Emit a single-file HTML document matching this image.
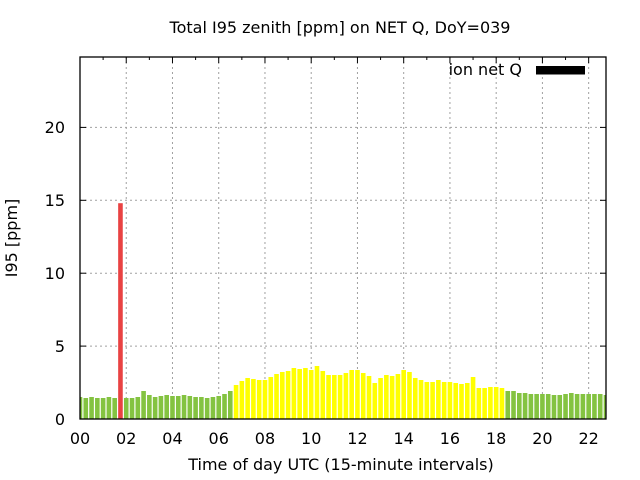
<!DOCTYPE html>
<html><head><meta charset="utf-8"><style>
html,body{margin:0;padding:0;background:#fff;}
svg{display:block;}
text{font-family:"DejaVu Sans","Liberation Sans",sans-serif;font-size:16px;fill:#000;}
</style></head><body>
<svg width="640" height="480" viewBox="0 0 640 480" xmlns="http://www.w3.org/2000/svg">
<defs><clipPath id="pa"><rect x="80" y="57" width="526" height="362"/></clipPath></defs>
<rect x="0" y="0" width="640" height="480" fill="#fff"/>
<g stroke="#a0a0a0" stroke-width="1" stroke-dasharray="2,3" fill="none">
<line x1="80" y1="346.1" x2="606" y2="346.1"/>
<line x1="80" y1="273.2" x2="606" y2="273.2"/>
<line x1="80" y1="200.3" x2="606" y2="200.3"/>
<line x1="80" y1="127.4" x2="606" y2="127.4"/>
<line x1="126.24" y1="57" x2="126.24" y2="419"/>
<line x1="172.48" y1="57" x2="172.48" y2="419"/>
<line x1="218.72" y1="57" x2="218.72" y2="419"/>
<line x1="264.97" y1="57" x2="264.97" y2="419"/>
<line x1="311.21" y1="57" x2="311.21" y2="419"/>
<line x1="357.45" y1="57" x2="357.45" y2="419"/>
<line x1="403.69" y1="57" x2="403.69" y2="419"/>
<line x1="449.94" y1="57" x2="449.94" y2="419"/>
<line x1="496.18" y1="57" x2="496.18" y2="419"/>
<line x1="542.42" y1="57" x2="542.42" y2="419"/>
<line x1="588.66" y1="57" x2="588.66" y2="419"/>
</g>
<g clip-path="url(#pa)">
<g fill="#84c341">
<rect x="77.70" y="397" width="4.6" height="22"/>
<rect x="83.48" y="398" width="4.6" height="21"/>
<rect x="89.26" y="397" width="4.6" height="22"/>
<rect x="95.04" y="398" width="4.6" height="21"/>
<rect x="100.82" y="398" width="4.6" height="21"/>
<rect x="106.60" y="397" width="4.6" height="22"/>
<rect x="112.38" y="398" width="4.6" height="21"/>
<rect x="123.94" y="398" width="4.6" height="21"/>
<rect x="129.72" y="398" width="4.6" height="21"/>
<rect x="135.50" y="397" width="4.6" height="22"/>
<rect x="141.28" y="391" width="4.6" height="28"/>
<rect x="147.06" y="395" width="4.6" height="24"/>
<rect x="152.84" y="397" width="4.6" height="22"/>
<rect x="158.62" y="396" width="4.6" height="23"/>
<rect x="164.40" y="395" width="4.6" height="24"/>
<rect x="170.18" y="396" width="4.6" height="23"/>
<rect x="175.96" y="396" width="4.6" height="23"/>
<rect x="181.74" y="395" width="4.6" height="24"/>
<rect x="187.52" y="396" width="4.6" height="23"/>
<rect x="193.30" y="397" width="4.6" height="22"/>
<rect x="199.08" y="397" width="4.6" height="22"/>
<rect x="204.86" y="398" width="4.6" height="21"/>
<rect x="210.64" y="397" width="4.6" height="22"/>
<rect x="216.42" y="396" width="4.6" height="23"/>
<rect x="222.21" y="394" width="4.6" height="25"/>
<rect x="227.99" y="391" width="4.6" height="28"/>
<rect x="505.44" y="391" width="4.6" height="28"/>
<rect x="511.22" y="391" width="4.6" height="28"/>
<rect x="517.00" y="393" width="4.6" height="26"/>
<rect x="522.78" y="393" width="4.6" height="26"/>
<rect x="528.56" y="394" width="4.6" height="25"/>
<rect x="534.34" y="394" width="4.6" height="25"/>
<rect x="540.12" y="394" width="4.6" height="25"/>
<rect x="545.90" y="394" width="4.6" height="25"/>
<rect x="551.68" y="395" width="4.6" height="24"/>
<rect x="557.46" y="395" width="4.6" height="24"/>
<rect x="563.24" y="394" width="4.6" height="25"/>
<rect x="569.02" y="393" width="4.6" height="26"/>
<rect x="574.80" y="394" width="4.6" height="25"/>
<rect x="580.58" y="394" width="4.6" height="25"/>
<rect x="586.36" y="394" width="4.6" height="25"/>
<rect x="592.14" y="394" width="4.6" height="25"/>
<rect x="597.92" y="394" width="4.6" height="25"/>
<rect x="603.70" y="395" width="4.6" height="24"/>
</g>
<rect x="118.16" y="203.2" width="4.6" height="215.8" fill="#e94242"/>
<g fill="#ffff00">
<rect x="233.77" y="385" width="4.6" height="34"/>
<rect x="239.55" y="381" width="4.6" height="38"/>
<rect x="245.33" y="378" width="4.6" height="41"/>
<rect x="251.11" y="379" width="4.6" height="40"/>
<rect x="256.89" y="380" width="4.6" height="39"/>
<rect x="262.67" y="380" width="4.6" height="39"/>
<rect x="268.45" y="377" width="4.6" height="42"/>
<rect x="274.23" y="374" width="4.6" height="45"/>
<rect x="280.01" y="372" width="4.6" height="47"/>
<rect x="285.79" y="371" width="4.6" height="48"/>
<rect x="291.57" y="368" width="4.6" height="51"/>
<rect x="297.35" y="369" width="4.6" height="50"/>
<rect x="303.13" y="368" width="4.6" height="51"/>
<rect x="308.91" y="370" width="4.6" height="49"/>
<rect x="314.69" y="366" width="4.6" height="53"/>
<rect x="320.47" y="371" width="4.6" height="48"/>
<rect x="326.25" y="375" width="4.6" height="44"/>
<rect x="332.03" y="375" width="4.6" height="44"/>
<rect x="337.81" y="375" width="4.6" height="44"/>
<rect x="343.59" y="373" width="4.6" height="46"/>
<rect x="349.37" y="370" width="4.6" height="49"/>
<rect x="355.15" y="370" width="4.6" height="49"/>
<rect x="360.93" y="373" width="4.6" height="46"/>
<rect x="366.71" y="376" width="4.6" height="43"/>
<rect x="372.49" y="383" width="4.6" height="36"/>
<rect x="378.27" y="378" width="4.6" height="41"/>
<rect x="384.05" y="375" width="4.6" height="44"/>
<rect x="389.83" y="376" width="4.6" height="43"/>
<rect x="395.61" y="374" width="4.6" height="45"/>
<rect x="401.39" y="370" width="4.6" height="49"/>
<rect x="407.17" y="372" width="4.6" height="47"/>
<rect x="412.95" y="378" width="4.6" height="41"/>
<rect x="418.73" y="380" width="4.6" height="39"/>
<rect x="424.51" y="382" width="4.6" height="37"/>
<rect x="430.29" y="382" width="4.6" height="37"/>
<rect x="436.07" y="380" width="4.6" height="39"/>
<rect x="441.86" y="382" width="4.6" height="37"/>
<rect x="447.64" y="382" width="4.6" height="37"/>
<rect x="453.42" y="383" width="4.6" height="36"/>
<rect x="459.20" y="384" width="4.6" height="35"/>
<rect x="464.98" y="383" width="4.6" height="36"/>
<rect x="470.76" y="377" width="4.6" height="42"/>
<rect x="476.54" y="388" width="4.6" height="31"/>
<rect x="482.32" y="388" width="4.6" height="31"/>
<rect x="488.10" y="387" width="4.6" height="32"/>
<rect x="493.88" y="387" width="4.6" height="32"/>
<rect x="499.66" y="388" width="4.6" height="31"/>
</g>
</g>
<g stroke="#000" stroke-width="1">
<line x1="80" y1="346.1" x2="86" y2="346.1"/><line x1="606" y1="346.1" x2="600" y2="346.1"/>
<line x1="80" y1="273.2" x2="86" y2="273.2"/><line x1="606" y1="273.2" x2="600" y2="273.2"/>
<line x1="80" y1="200.3" x2="86" y2="200.3"/><line x1="606" y1="200.3" x2="600" y2="200.3"/>
<line x1="80" y1="127.4" x2="86" y2="127.4"/><line x1="606" y1="127.4" x2="600" y2="127.4"/>
<line x1="126.24" y1="57" x2="126.24" y2="63"/>
<line x1="172.48" y1="57" x2="172.48" y2="63"/>
<line x1="218.72" y1="57" x2="218.72" y2="63"/>
<line x1="264.97" y1="57" x2="264.97" y2="63"/>
<line x1="311.21" y1="57" x2="311.21" y2="63"/>
<line x1="357.45" y1="57" x2="357.45" y2="63"/>
<line x1="403.69" y1="57" x2="403.69" y2="63"/>
<line x1="449.94" y1="57" x2="449.94" y2="63"/>
<line x1="496.18" y1="57" x2="496.18" y2="63"/>
<line x1="542.42" y1="57" x2="542.42" y2="63"/>
<line x1="588.66" y1="57" x2="588.66" y2="63"/>
<line x1="103.12" y1="57" x2="103.12" y2="60"/><line x1="149.36" y1="57" x2="149.36" y2="60"/>
<line x1="195.60" y1="57" x2="195.60" y2="60"/><line x1="241.85" y1="57" x2="241.85" y2="60"/>
<line x1="288.09" y1="57" x2="288.09" y2="60"/><line x1="334.33" y1="57" x2="334.33" y2="60"/>
<line x1="380.57" y1="57" x2="380.57" y2="60"/><line x1="426.81" y1="57" x2="426.81" y2="60"/>
<line x1="473.06" y1="57" x2="473.06" y2="60"/><line x1="519.30" y1="57" x2="519.30" y2="60"/>
<line x1="565.54" y1="57" x2="565.54" y2="60"/>
</g>
<rect x="80" y="57" width="526" height="362" fill="none" stroke="#000" stroke-width="1.3"/>
<text x="522" y="75" text-anchor="end">ion net Q</text>
<rect x="536" y="66" width="49" height="8.5" fill="#000"/>
<g text-anchor="end">
<text x="65" y="425">0</text>
<text x="65" y="352">5</text>
<text x="65" y="279">10</text>
<text x="65" y="206">15</text>
<text x="65" y="133">20</text>
</g>
<g text-anchor="middle">
<text x="80" y="444">00</text>
<text x="126.24" y="444">02</text>
<text x="172.48" y="444">04</text>
<text x="218.72" y="444">06</text>
<text x="264.97" y="444">08</text>
<text x="311.21" y="444">10</text>
<text x="357.45" y="444">12</text>
<text x="403.69" y="444">14</text>
<text x="449.94" y="444">16</text>
<text x="496.18" y="444">18</text>
<text x="542.42" y="444">20</text>
<text x="588.66" y="444">22</text>
</g>
<text x="341" y="470" text-anchor="middle">Time of day UTC (15-minute intervals)</text>
<text x="340" y="33" text-anchor="middle">Total I95 zenith [ppm] on NET Q, DoY=039</text>
<text transform="translate(17,238) rotate(-90)" text-anchor="middle">I95 [ppm]</text>
</svg>
</body></html>
